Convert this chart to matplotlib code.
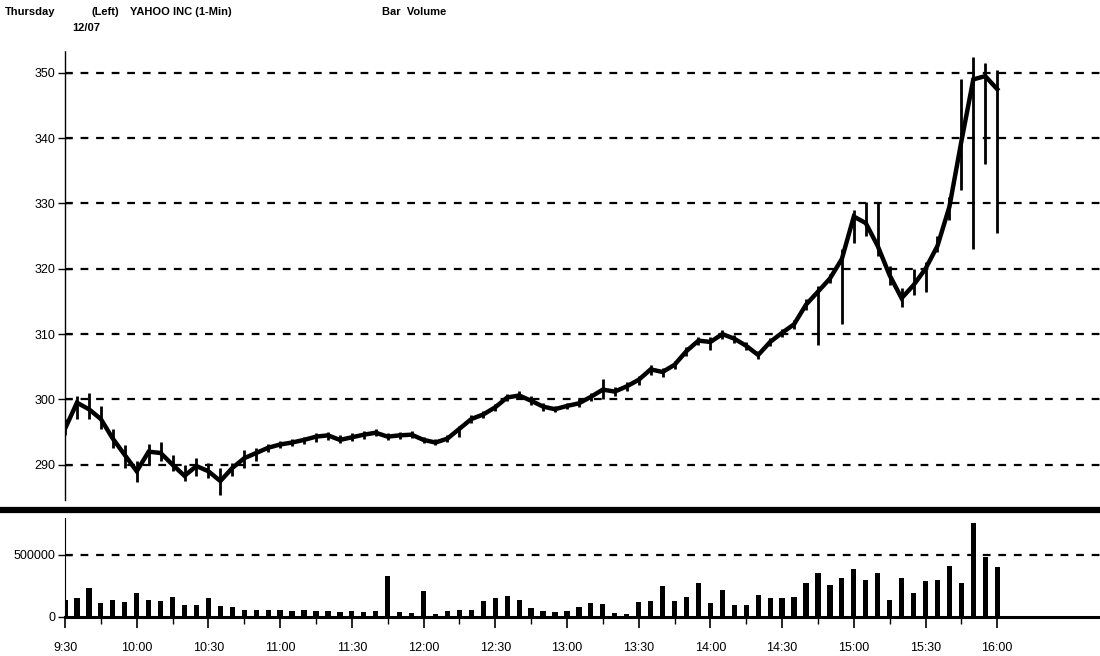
import numpy as np
import matplotlib
matplotlib.use("Agg")
import matplotlib.pyplot as plt
from matplotlib.lines import Line2D

# minutes after 9:30, one sample every 5 minutes
minutes = list(range(0, 391, 5))

close = [295.5, 299.5, 298.5, 297.0, 294.0, 291.5, 289.0, 292.0, 291.8, 290.0,
         288.3, 289.8, 289.0, 287.5, 289.5, 291.0, 291.8, 292.6, 293.1, 293.4,
         293.8, 294.3, 294.5, 293.8, 294.2, 294.6, 294.9, 294.3, 294.5, 294.6,
         293.8, 293.4, 294.0, 295.5, 297.0, 297.7, 298.8, 300.3, 300.6, 299.8,
         298.9, 298.5, 299.0, 299.4, 300.4, 301.5, 301.2, 302.0, 303.0, 304.6,
         304.2, 305.3, 307.4, 309.0, 308.8, 310.0, 309.3, 308.2, 306.8, 308.8,
         310.2, 311.5, 314.5, 316.5, 318.5, 321.5, 328.0, 327.0, 323.5, 319.0,
         315.5, 317.5, 320.0, 323.5, 329.5, 339.5, 349.0, 349.5, 347.5]

high = [297.0, 300.5, 301.0, 299.0, 295.5, 293.0, 290.5, 293.2, 293.5, 291.5,
        290.0, 291.0, 290.3, 289.5, 290.2, 292.3, 292.5, 293.2, 293.6, 293.9,
        294.3, 294.8, 295.0, 294.5, 294.8, 295.1, 295.4, 294.9, 295.0, 295.1,
        294.3, 293.9, 294.5, 296.0, 297.6, 298.3, 299.3, 300.9, 301.3, 300.5,
        299.5, 299.0, 299.5, 300.0, 301.0, 303.2, 301.9, 302.7, 303.6, 305.2,
        304.8, 305.9, 308.0, 309.6, 309.5, 310.7, 309.9, 308.8, 307.4, 309.4,
        310.8, 312.2, 315.3, 317.3, 319.2, 323.0, 329.0, 330.3, 330.0, 320.5,
        317.0, 320.0, 321.0, 325.0, 331.0, 349.0, 352.4, 351.5, 350.5]

low = [294.5, 297.0, 297.0, 295.5, 292.5, 289.5, 287.3, 290.0, 290.5, 289.0,
       287.5, 288.3, 288.0, 285.3, 288.2, 289.5, 290.5, 292.0, 292.5, 292.9,
       293.2, 293.5, 293.8, 293.3, 293.7, 294.0, 294.4, 293.8, 294.0, 294.1,
       293.3, 293.0, 293.5, 294.3, 296.4, 297.1, 298.2, 299.7, 300.0, 299.2,
       298.3, 298.0, 298.5, 298.9, 299.8, 300.0, 300.5, 301.3, 302.2, 303.8,
       303.4, 304.7, 306.6, 308.3, 307.6, 309.3, 308.7, 307.6, 306.2, 308.2,
       309.5, 310.8, 313.7, 308.4, 317.8, 311.5, 324.0, 325.0, 322.0, 317.5,
       314.2, 316.0, 316.5, 322.5, 327.5, 332.0, 323.0, 336.0, 325.5]

# peak 1-min volume in each 5-min slot, thousands of shares
volume_k = [140, 150, 230, 110, 140, 120, 190, 140, 130, 160,
            100, 100, 150, 85, 80, 60, 55, 55, 55, 50,
            55, 50, 45, 40, 45, 40, 45, 330, 40, 35,
            210, 25, 50, 55, 60, 130, 150, 170, 140, 70,
            45, 40, 45, 80, 110, 105, 30, 25, 120, 125,
            250, 130, 165, 275, 110, 220, 95, 95, 180, 150,
            150, 160, 275, 355, 260, 315, 385, 300, 355, 135,
            315, 190, 290, 300, 410, 275, 755, 480, 400]

price_ticks = [290, 300, 310, 320, 330, 340, 350]
time_labels = ["9:30", "10:00", "10:30", "11:00", "11:30", "12:00", "12:30",
               "13:00", "13:30", "14:00", "14:30", "15:00", "15:30", "16:00"]

W, H = 1100, 656
fig = plt.figure(figsize=(W / 100, H / 100), dpi=100, facecolor="white")
plt.rcParams["font.family"] = ["Liberation Sans", "DejaVu Sans"]

x0 = 65 / W
ax = fig.add_axes([x0, 1 - 500 / H, 1 - x0, 450 / H])
axv = fig.add_axes([x0, 1 - 625 / H, 1 - x0, 107 / H])

t = np.array(minutes)
xmax = 433

# --- price panel ---
for v in price_ticks:
    ax.axhline(v, color="black", lw=1.6, dashes=(3.5, 3.5), zorder=1)
ax.vlines(t, low, high, color="black", lw=2.0, zorder=3)
ax.plot(t, close, color="black", lw=3.2, zorder=3, solid_joinstyle="miter")
ax.set_xlim(0, xmax)
ax.set_ylim(284.6, 353.5)
for s in ["top", "right", "bottom"]:
    ax.spines[s].set_visible(False)
ax.spines["left"].set_linewidth(1.0)
ax.spines["left"].set_linestyle((0, (2, 1)))
ax.set_yticks(price_ticks)
ax.set_yticklabels([str(v) for v in price_ticks])
ax.tick_params(axis="y", direction="inout", length=10, width=1, labelsize=9, pad=2)
ax.set_xticks([])

# thick separator
fig.add_artist(Line2D([0, 1], [1 - 510 / H] * 2, color="black", lw=4.5))

# --- volume panel ---
vol = np.array(volume_k) * 1000
axv.axhline(500000, color="black", lw=1.6, dashes=(3.5, 3.5), zorder=1)
axv.bar(t, vol, width=2.2, color="black", zorder=3)
axv.set_xlim(0, xmax)
axv.set_ylim(-64500, 798000)
for s in ["top", "right"]:
    axv.spines[s].set_visible(False)
axv.spines["bottom"].set_position(("data", 0))
axv.spines["bottom"].set_linewidth(2.2)
axv.spines["left"].set_bounds(0, 798000)
axv.spines["left"].set_linestyle((0, (2, 1)))
axv.set_yticks([0, 500000])
axv.set_yticklabels(["0", "500000"])
axv.tick_params(axis="y", direction="inout", length=10, width=1, labelsize=9, pad=2)
axv.set_xticks(list(range(0, 391, 30)))
axv.set_xticks(list(range(15, 391, 30)), minor=True)
axv.set_xticklabels(time_labels)
axv.tick_params(axis="x", which="major", direction="out", length=8, width=1.2,
                labelsize=9, pad=10)
axv.tick_params(axis="x", which="minor", direction="out", length=5, width=1)

# --- header ---
hdr = dict(fontsize=8, fontweight="bold", va="center")
fig.text(5 / W, 1 - 12 / H, "Thursday", **hdr)
fig.text(92 / W, 1 - 12 / H, "(Left)", **hdr)
fig.text(130 / W, 1 - 12 / H, "YAHOO INC (1-Min)", **hdr)
fig.text(382 / W, 1 - 12 / H, "Bar  Volume", **hdr)
fig.text(72 / W, 1 - 28 / H, "12/07", **hdr)

fig.savefig("out.png", dpi=100, facecolor="white")
